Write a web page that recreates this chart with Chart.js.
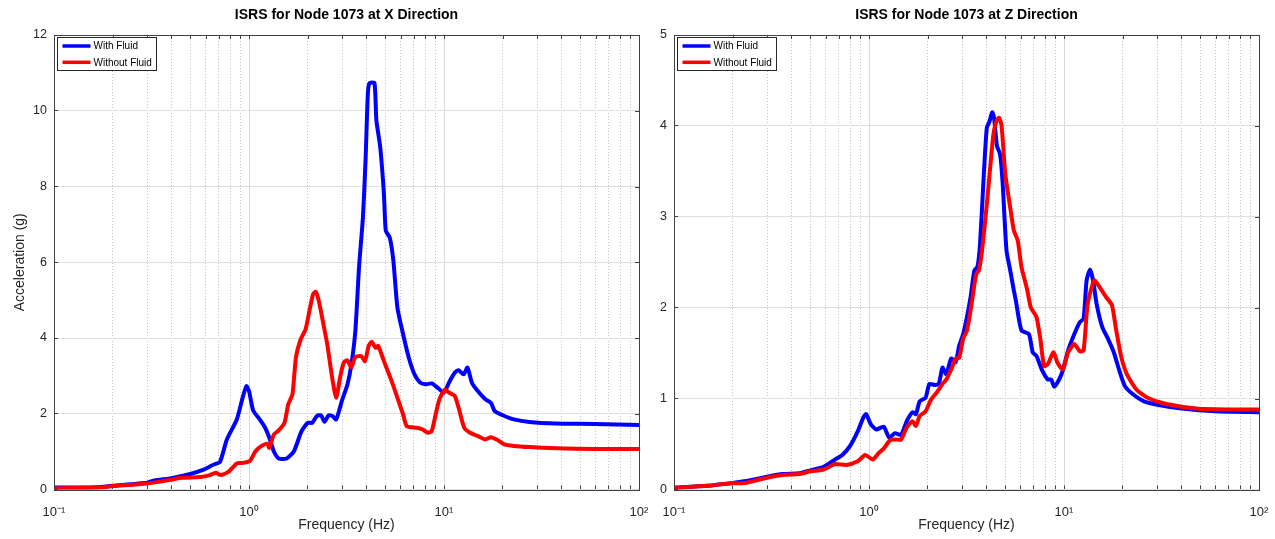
<!DOCTYPE html>
<html>
<head>
<meta charset="utf-8">
<script src="https://cdn.jsdelivr.net/npm/chart.js@4.4.1/dist/chart.umd.min.js"></script>
<style>
  body { margin: 0; background: #fff; width: 1275px; height: 539px; position: relative; overflow: hidden; }
  canvas { position: absolute; top: 0; }
</style>
</head>
<body>
<canvas id="graficoX" width="660" height="539" style="left:0"></canvas>
<canvas id="graficoZ" width="635" height="539" style="left:640px"></canvas>
<script>
// Etiquetas del eje de frecuencia (logaritmico)
const decadas = [0.1, 1, 10, 100];
const etiquetasDecadas = ['10⁻¹', '10⁰', '10¹', '10²'];
const multiplos = [1, 2, 3, 4, 5, 6, 7, 8, 9];

// Direccion X - con fluido
const frecXCon = [0.1, 0.166, 0.2, 0.3, 0.328, 0.4, 0.5, 0.59, 0.66, 0.71, 0.77, 0.866, 0.927, 0.97, 1.0, 1.05, 1.135, 1.21, 1.27, 1.34, 1.42, 1.56, 1.7, 1.86, 2.0, 2.11, 2.23, 2.34, 2.44, 2.56, 2.68, 2.8, 2.99, 3.2, 3.35, 3.51, 3.67, 3.84, 3.96, 4.07, 4.15, 4.4, 4.5, 4.71, 4.92, 5.03, 5.27, 5.5, 5.77, 6.17, 6.6, 7.06, 7.56, 8.09, 8.65, 9.26, 10, 10.6, 11.35, 11.88, 12.6, 13.2, 13.9, 14.9, 16.3, 17.4, 18.2, 20, 22.8, 27.4, 37.6, 59, 100];
const accXCon = [0.05, 0.06, 0.1, 0.18, 0.24, 0.3, 0.41, 0.53, 0.66, 0.73, 1.32, 1.85, 2.42, 2.73, 2.6, 2.09, 1.85, 1.63, 1.37, 1.01, 0.82, 0.82, 1.01, 1.54, 1.76, 1.76, 1.94, 1.96, 1.79, 1.96, 1.94, 1.85, 2.33, 2.78, 3.3, 4.18, 5.9, 7.19, 8.69, 10.46, 10.73, 10.73, 9.75, 9.04, 7.8, 6.83, 6.65, 6.04, 4.8, 4.1, 3.48, 3.04, 2.82, 2.78, 2.8, 2.69, 2.56, 2.82, 3.08, 3.15, 3.04, 3.22, 2.82, 2.6, 2.38, 2.29, 2.07, 1.96, 1.85, 1.78, 1.74, 1.73, 1.7];

// Direccion X - sin fluido
const frecXSin = [0.1, 0.166, 0.2, 0.3, 0.4, 0.45, 0.564, 0.63, 0.675, 0.72, 0.79, 0.866, 0.927, 1.01, 1.08, 1.16, 1.24, 1.27, 1.34, 1.42, 1.52, 1.59, 1.67, 1.74, 1.84, 1.95, 2.04, 2.13, 2.2, 2.28, 2.39, 2.52, 2.67, 2.8, 2.93, 3.06, 3.2, 3.35, 3.51, 3.76, 3.93, 4.11, 4.26, 4.46, 4.6, 4.92, 5.39, 5.77, 6.17, 6.45, 7.22, 7.73, 8.27, 8.65, 9.06, 9.47, 10.1, 10.6, 11.35, 11.88, 12.7, 13.6, 14.9, 16.3, 17.4, 18.6, 20.4, 22.8, 27.4, 37.6, 59, 100];
const accXSin = [0.03, 0.05, 0.09, 0.16, 0.26, 0.31, 0.33, 0.38, 0.44, 0.38, 0.48, 0.69, 0.7, 0.75, 1.01, 1.15, 1.21, 1.1, 1.45, 1.56, 1.76, 2.25, 2.51, 3.48, 3.96, 4.23, 4.71, 5.15, 5.22, 4.98, 4.45, 3.83, 2.95, 2.42, 2.95, 3.35, 3.41, 3.22, 3.5, 3.52, 3.39, 3.79, 3.9, 3.74, 3.79, 3.39, 2.86, 2.42, 1.98, 1.67, 1.63, 1.59, 1.5, 1.54, 1.98, 2.38, 2.64, 2.56, 2.47, 2.16, 1.63, 1.5, 1.41, 1.32, 1.38, 1.32, 1.19, 1.15, 1.12, 1.09, 1.07, 1.07];

// Direccion Z - con fluido
const frecZCon = [0.1, 0.148, 0.197, 0.23, 0.3, 0.36, 0.44, 0.5, 0.586, 0.67, 0.73, 0.8, 0.875, 0.935, 0.966, 1.02, 1.09, 1.19, 1.27, 1.36, 1.46, 1.56, 1.67, 1.74, 1.82, 1.95, 2.04, 2.18, 2.28, 2.38, 2.49, 2.64, 2.78, 2.9, 3.04, 3.18, 3.32, 3.47, 3.6, 3.71, 3.88, 4.02, 4.15, 4.28, 4.38, 4.53, 4.7, 4.84, 5.07, 5.3, 5.53, 5.66, 6.05, 6.61, 6.91, 7.22, 7.73, 8.26, 8.6, 8.91, 9.44, 9.86, 10.5, 11.3, 12.05, 12.6, 13.06, 13.6, 14.1, 14.7, 15.7, 16.8, 18, 19.2, 20.5, 22.5, 25.7, 30.6, 40.2, 59.7, 100];
const accZCon = [0.02, 0.04, 0.07, 0.09, 0.14, 0.17, 0.18, 0.21, 0.25, 0.33, 0.38, 0.48, 0.64, 0.79, 0.83, 0.72, 0.66, 0.69, 0.57, 0.62, 0.6, 0.75, 0.85, 0.83, 0.97, 1.01, 1.16, 1.15, 1.16, 1.34, 1.27, 1.44, 1.4, 1.58, 1.71, 1.9, 2.12, 2.41, 2.45, 2.7, 3.47, 3.98, 4.05, 4.15, 4.09, 3.78, 3.69, 3.39, 2.63, 2.41, 2.19, 2.08, 1.75, 1.71, 1.51, 1.47, 1.31, 1.21, 1.21, 1.13, 1.21, 1.31, 1.53, 1.71, 1.84, 1.88, 2.3, 2.42, 2.3, 2.04, 1.79, 1.66, 1.51, 1.31, 1.14, 1.05, 0.97, 0.93, 0.89, 0.86, 0.85];

// Direccion Z - sin fluido
const frecZSin = [0.1, 0.148, 0.197, 0.23, 0.3, 0.36, 0.44, 0.5, 0.586, 0.67, 0.766, 0.875, 0.956, 1.045, 1.12, 1.19, 1.28, 1.36, 1.46, 1.56, 1.67, 1.74, 1.82, 1.95, 2.08, 2.23, 2.38, 2.49, 2.64, 2.78, 2.9, 3.04, 3.18, 3.32, 3.47, 3.55, 3.66, 3.8, 4.05, 4.34, 4.5, 4.64, 4.78, 5.0, 5.3, 5.53, 5.79, 6.05, 6.47, 6.76, 7.22, 7.56, 7.9, 8.26, 8.83, 9.23, 9.86, 10.5, 11.3, 12.05, 12.6, 13.2, 14.1, 14.4, 15.4, 16.4, 17.6, 18.4, 19.6, 21, 23.5, 26.8, 33.5, 47.8, 68, 100];
const accZSin = [0.02, 0.04, 0.07, 0.07, 0.13, 0.16, 0.17, 0.2, 0.22, 0.28, 0.27, 0.31, 0.38, 0.33, 0.4, 0.45, 0.54, 0.55, 0.55, 0.68, 0.75, 0.7, 0.81, 0.86, 0.99, 1.07, 1.16, 1.21, 1.32, 1.44, 1.45, 1.66, 1.75, 1.97, 2.25, 2.37, 2.41, 2.63, 3.21, 3.9, 4.05, 4.09, 4.01, 3.47, 3.1, 2.85, 2.74, 2.45, 2.2, 2.0, 1.9, 1.66, 1.36, 1.38, 1.51, 1.4, 1.32, 1.51, 1.6, 1.52, 1.53, 2.03, 2.28, 2.3, 2.21, 2.12, 2.03, 1.79, 1.47, 1.27, 1.1, 1.01, 0.94, 0.89, 0.88, 0.88];

const fuente = "'Liberation Sans', Arial, Helvetica, sans-serif";

// todas las marcas del eje x: 1..9 por cada decada
const ticksX = decadas.slice(0, 3).flatMap(d => multiplos.map(m => Number((m * d).toPrecision(2)))).concat([100]);

const aPuntos = (frec, acc) => frec.map((f, i) => ({x: f, y: acc[i]}));

const esDecada = (c) => c.tick && decadas.includes(c.tick.value);

// Marco completo alrededor del area de datos, con marcas arriba y a la derecha
const marco = {
  id: 'marco',
  afterDraw: (chart) => {
    const {ctx, chartArea: a, scales} = chart;
    ctx.save();
    ctx.strokeStyle = '#404040';
    ctx.lineWidth = 1;
    ctx.beginPath();
    scales.x.ticks.forEach(t => {
      const px = Math.round(scales.x.getPixelForValue(t.value)) + 0.5;
      ctx.moveTo(px, a.top);
      ctx.lineTo(px, a.top + 4);
    });
    scales.y.ticks.forEach(t => {
      const py = Math.round(scales.y.getPixelForValue(t.value)) + 0.5;
      ctx.moveTo(a.right, py);
      ctx.lineTo(a.right - 4, py);
    });
    ctx.stroke();
    ctx.strokeRect(Math.round(a.left) + 0.5, Math.round(a.top) + 0.5, Math.round(a.right - a.left), Math.round(a.bottom - a.top));
    ctx.restore();
  }
};

// Leyenda dentro del grafico, arriba a la izquierda
const leyendaInterna = {
  id: 'leyendaInterna',
  afterDraw: (chart) => {
    const {ctx, chartArea: a} = chart;
    const x = Math.round(a.left) + 3.5, y = Math.round(a.top) + 2.5, w = 99, h = 33;
    ctx.save();
    ctx.fillStyle = '#fff';
    ctx.fillRect(x, y, w, h);
    ctx.strokeStyle = '#262626';
    ctx.lineWidth = 1;
    ctx.strokeRect(x, y, w, h);
    ctx.font = '10px ' + fuente;
    ctx.textBaseline = 'middle';
    chart.data.datasets.forEach((ds, i) => {
      const yy = y + 8.5 + i * 16.3;
      ctx.strokeStyle = ds.borderColor;
      ctx.lineWidth = 3.5;
      ctx.beginPath();
      ctx.moveTo(x + 5, yy);
      ctx.lineTo(x + 33, yy);
      ctx.stroke();
      ctx.fillStyle = '#000';
      ctx.fillText(ds.label, x + 36, yy + 0.5);
    });
    ctx.restore();
  }
};

const GenerarGrafico = (id, titulo, con, sin, yMax, yPaso, anchoEjeY, padDerecha, tituloY) => {
  new Chart(document.getElementById(id), {
    type: 'line',
    data: {
      datasets: [
        { label: 'With Fluid', data: con, borderColor: '#0000ff', borderWidth: 4, pointRadius: 0, tension: 0.2, borderJoinStyle: 'round', borderCapStyle: 'round', order: 2 },
        { label: 'Without Fluid', data: sin, borderColor: '#ff0000', borderWidth: 4, pointRadius: 0, tension: 0.2, borderJoinStyle: 'round', borderCapStyle: 'round', order: 1 }
      ]
    },
    options: {
      responsive: false,
      animation: false,
      layout: { padding: { left: 0, right: padDerecha, top: 0, bottom: 0 } },
      plugins: {
        legend: { display: false },
        tooltip: { enabled: false },
        title: {
          display: true, text: titulo, fullSize: false, color: '#000',
          font: { family: fuente, size: 14, weight: 'bold' },
          padding: { top: 6.9, bottom: 11.3 }
        }
      },
      scales: {
        x: {
          type: 'logarithmic', min: 0.1, max: 100,
          afterBuildTicks: (eje) => { eje.ticks = ticksX.map(v => ({ value: v })); },
          afterFit: (eje) => { eje.height = 49.5; eje.paddingLeft = 0; eje.paddingRight = 0; },
          ticks: {
            autoSkip: false, maxRotation: 0, padding: 19.5, color: '#262626',
            font: { family: fuente, size: 13 },
            callback: (v) => { const i = decadas.indexOf(v); return i >= 0 ? etiquetasDecadas[i] : ''; }
          },
          grid: { color: (c) => esDecada(c) ? '#d9d9d9' : '#c2c2c2', lineWidth: 1, tickLength: -4, tickColor: '#404040' },
          border: { display: false, dash: (c) => esDecada(c) ? [] : [1, 2] },
          title: { display: true, text: 'Frequency (Hz)', color: '#262626', font: { family: fuente, size: 14 }, padding: { top: 0, bottom: 5.6 } }
        },
        y: {
          min: 0, max: yMax,
          afterFit: (eje) => { eje.width = anchoEjeY; },
          ticks: { stepSize: yPaso, padding: 11, color: '#262626', font: { family: fuente, size: 12.5 } },
          grid: { color: '#dedede', lineWidth: 1, tickLength: -4, tickColor: '#404040' },
          border: { display: false },
          title: { display: !!tituloY, text: tituloY || '', color: '#262626', font: { family: fuente, size: 14 }, padding: { top: 11.6, bottom: 0 } }
        }
      }
    },
    plugins: [marco, leyendaInterna]
  });
};

GenerarGrafico('graficoX', 'ISRS for Node 1073 at X Direction', aPuntos(frecXCon, accXCon), aPuntos(frecXSin, accXSin), 12, 2, 54, 21, 'Acceleration (g)');
GenerarGrafico('graficoZ', 'ISRS for Node 1073 at Z Direction', aPuntos(frecZCon, accZCon), aPuntos(frecZSin, accZSin), 5, 1, 34, 16, null);
</script>
</body>
</html>
